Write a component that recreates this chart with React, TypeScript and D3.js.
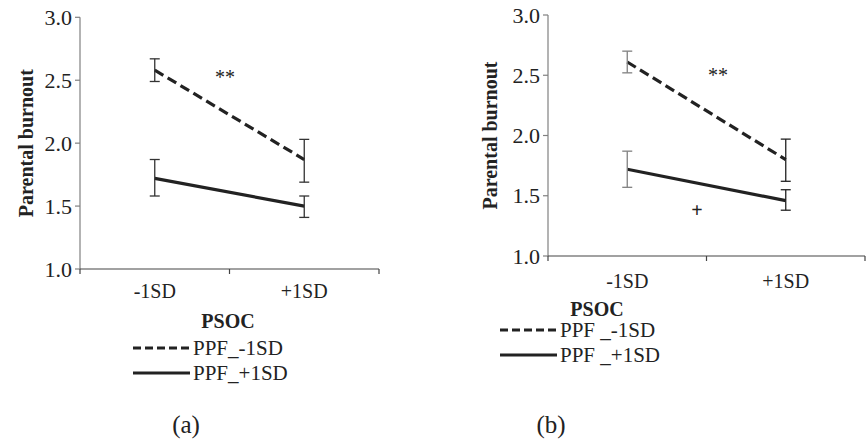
import React from "react";
import * as d3 from "d3";

const categories = ["-1SD", "+1SD"];
const yTicks = [1.0, 1.5, 2.0, 2.5, 3.0];

// Panel (a)
const aLowMean = [2.58, 1.87];
const aLowUpper = [2.67, 2.03];
const aLowLower = [2.49, 1.69];
const aHighMean = [1.72, 1.5];
const aHighUpper = [1.87, 1.58];
const aHighLower = [1.58, 1.41];

// Panel (b)
const bLowMean = [2.61, 1.8];
const bLowUpper = [2.7, 1.97];
const bLowLower = [2.52, 1.62];
const bHighMean = [1.72, 1.46];
const bHighUpper = [1.87, 1.55];
const bHighLower = [1.57, 1.38];

const legendLabelsA = ["PPF_-1SD", "PPF_+1SD"];
const legendLabelsB = ["PPF _-1SD", "PPF _+1SD"];

const FONT = "'Liberation Serif', 'Times New Roman', serif";

type PanelProps = {
  x0: number; x1: number; yBottom: number; yTop: number;
  low: number[]; lowU: number[]; lowL: number[];
  high: number[]; highU: number[]; highL: number[];
  yLabelX: number; catBaseline: number;
  psocX: number; psocY: number;
  legX: number; legY: number;
  legendLabels: string[];
  caption: string; capX: number; capY: number;
  stars: [number, number]; plus?: [number, number];
  errColors: string[];
};

function Panel(p: PanelProps) {
  const x = d3.scaleBand<string>().domain(categories).range([p.x0, p.x1]);
  const y = d3.scaleLinear().domain([1, 3]).range([p.yBottom, p.yTop]);
  const cx = (c: string) => (x(c) as number) + x.bandwidth() / 2;
  const line = d3.line<number>().x((_, i) => cx(categories[i])).y((v) => y(v));
  const err = (u: number[], l: number[], key: string) =>
    categories.map((c, i) => (
      <g key={key + i} stroke={p.errColors[i]} strokeWidth={1.3}>
        <line x1={cx(c)} x2={cx(c)} y1={y(u[i])} y2={y(l[i])} />
        <line x1={cx(c) - 5} x2={cx(c) + 5} y1={y(u[i])} y2={y(u[i])} />
        <line x1={cx(c) - 5} x2={cx(c) + 5} y1={y(l[i])} y2={y(l[i])} />
      </g>
    ));
  return (
    <g fontFamily={FONT} fill="#222">
      {/* y axis */}
      <line x1={p.x0} x2={p.x0} y1={p.yTop} y2={p.yBottom} stroke="#808080" strokeWidth={1.2} />
      {yTicks.map((t) => (
        <g key={t}>
          <line x1={p.x0 - 5} x2={p.x0} y1={y(t)} y2={y(t)} stroke="#808080" strokeWidth={1.2} />
          <text x={p.x0 - 8} y={y(t)} dy="0.35em" textAnchor="end" fontSize={22}>
            {t.toFixed(1)}
          </text>
        </g>
      ))}
      {/* x axis */}
      <line x1={p.x0} x2={p.x1} y1={p.yBottom} y2={p.yBottom} stroke="#444" strokeWidth={1.2} />
      {[p.x0, p.x0 + x.bandwidth(), p.x1].map((v, i) => (
        <line key={i} x1={v} x2={v} y1={p.yBottom} y2={p.yBottom + 5} stroke="#444" strokeWidth={1.2} />
      ))}
      {categories.map((c) => (
        <text key={c} x={cx(c)} y={p.catBaseline} textAnchor="middle" fontSize={20}>
          {c}
        </text>
      ))}
      <text
        transform={`translate(${p.yLabelX},${(p.yTop + p.yBottom) / 2}) rotate(-90)`}
        textAnchor="middle"
        fontWeight="bold"
        fontSize={20}
        dy="0.35em"
      >
        Parental burnout
      </text>
      {/* lines */}
      <path d={line(p.low) || ""} fill="none" stroke="#222" strokeWidth={3.2} strokeDasharray="10,5" />
      <path d={line(p.high) || ""} fill="none" stroke="#222" strokeWidth={3.2} />
      {err(p.lowU, p.lowL, "lo")}
      {err(p.highU, p.highL, "hi")}
      <text x={p.stars[0]} y={p.stars[1]} textAnchor="middle" dy="0.6em" fontSize={20}>**</text>
      {p.plus && (
        <text x={p.plus[0]} y={p.plus[1]} textAnchor="middle" dy="0.35em" fontSize={20} fontWeight="bold">+</text>
      )}
      {/* legend */}
      <text x={p.psocX} y={p.psocY} textAnchor="middle" fontWeight="bold" fontSize={20}>PSOC</text>
      <line x1={p.legX} x2={p.legX + 57} y1={p.legY} y2={p.legY} stroke="#222" strokeWidth={3.2} strokeDasharray="8,4" />
      <text x={p.legX + 60} y={p.legY} dy="0.33em" fontSize={21}>{p.legendLabels[0]}</text>
      <line x1={p.legX} x2={p.legX + 57} y1={p.legY + 25} y2={p.legY + 25} stroke="#222" strokeWidth={3.2} />
      <text x={p.legX + 60} y={p.legY + 25} dy="0.33em" fontSize={21}>{p.legendLabels[1]}</text>
      <text x={p.capX} y={p.capY} textAnchor="middle" fontSize={25}>{p.caption}</text>
    </g>
  );
}

export default function App() {
  return (
    <svg width={867} height={444} style={{ position: "absolute", left: 0, top: 0, background: "#fff" }}>
      <rect width={867} height={444} fill="#fff" />
      <Panel
        x0={80} x1={379} yBottom={269} yTop={17.3}
        low={aLowMean} lowU={aLowUpper} lowL={aLowLower}
        high={aHighMean} highU={aHighUpper} highL={aHighLower}
        yLabelX={26} catBaseline={298}
        psocX={228} psocY={328}
        legX={133} legY={348}
        legendLabels={legendLabelsA}
        caption="(a)" capX={186} capY={433}
        stars={[225, 72]}
        errColors={["#333", "#333"]}
      />
      <Panel
        x0={548} x1={865} yBottom={256} yTop={15}
        low={bLowMean} lowU={bLowUpper} lowL={bLowLower}
        high={bHighMean} highU={bHighUpper} highL={bHighLower}
        yLabelX={490} catBaseline={288}
        psocX={597} psocY={316}
        legX={500} legY={330}
        legendLabels={legendLabelsB}
        caption="(b)" capX={551} capY={433}
        stars={[718, 70]}
        plus={[697, 210]}
        errColors={["#808080", "#222"]}
      />
    </svg>
  );
}
